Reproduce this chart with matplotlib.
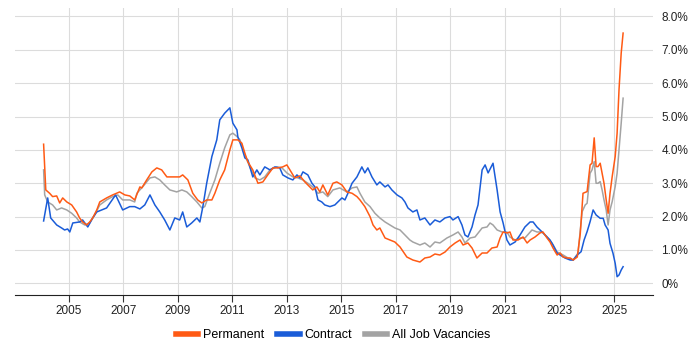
import matplotlib
matplotlib.use("Agg")
import matplotlib.pyplot as plt
from matplotlib.ticker import FixedLocator

plt.rcParams['font.family'] = ['Liberation Sans', 'DejaVu Sans']

# Permanent (share of all vacancies, %)
perm_x = [2004.08, 2004.16, 2004.30, 2004.41, 2004.56, 2004.67, 2004.78, 2004.93, 2005.11, 2005.29,
          2005.40, 2005.51, 2005.66, 2005.77, 2005.88, 2006.03, 2006.14, 2006.39, 2006.61, 2006.87,
          2007.06, 2007.24, 2007.42, 2007.61, 2007.68, 2007.86, 2008.05, 2008.23, 2008.41, 2008.60,
          2008.82, 2009.07, 2009.18, 2009.37, 2009.55, 2009.73, 2009.88, 2010.06, 2010.25, 2010.36,
          2010.54, 2010.72, 2010.91, 2011.02, 2011.20, 2011.35, 2011.46, 2011.57, 2011.75, 2011.94,
          2012.12, 2012.30, 2012.49, 2012.67, 2012.85, 2013.00, 2013.11, 2013.29, 2013.48, 2013.66,
          2013.77, 2013.95, 2014.10, 2014.21, 2014.32, 2014.50, 2014.69, 2014.83, 2015.02, 2015.20,
          2015.39, 2015.57, 2015.68, 2015.86, 2016.05, 2016.16, 2016.30, 2016.41, 2016.60, 2016.78,
          2016.96, 2017.15, 2017.40, 2017.62, 2017.88, 2018.06, 2018.25, 2018.43, 2018.61, 2018.80,
          2018.98, 2019.17, 2019.35, 2019.46, 2019.64, 2019.79, 2019.97, 2020.16, 2020.34, 2020.52,
          2020.71, 2020.82, 2020.93, 2021.07, 2021.18, 2021.29, 2021.48, 2021.66, 2021.81, 2021.92,
          2022.10, 2022.28, 2022.39, 2022.54, 2022.65, 2022.76, 2022.91, 2023.02, 2023.13, 2023.28,
          2023.39, 2023.50, 2023.65, 2023.76, 2023.86, 2024.01, 2024.12, 2024.19, 2024.27, 2024.34,
          2024.41, 2024.49, 2024.56, 2024.63, 2024.71, 2024.78, 2024.85, 2024.93, 2025.04, 2025.11,
          2025.18, 2025.26, 2025.33]
perm_y = [4.17, 2.8, 2.7, 2.6, 2.62, 2.41, 2.56, 2.44, 2.35, 2.14,
          1.96, 1.84, 1.75, 1.84, 1.96, 2.2, 2.44, 2.56, 2.65, 2.74,
          2.65, 2.62, 2.5, 2.89, 2.86, 3.1, 3.34, 3.46, 3.4, 3.19,
          3.19, 3.19, 3.25, 3.1, 2.7, 2.5, 2.41, 2.5, 2.5, 2.7,
          3.1, 3.4, 4.0, 4.3, 4.3, 4.2, 3.9, 3.64, 3.4, 3.0,
          3.04, 3.25, 3.46, 3.46, 3.49, 3.55, 3.4, 3.16, 3.22, 3.04,
          2.95, 2.8, 2.89, 2.74, 2.95, 2.65, 3.0, 3.04, 2.95, 2.74,
          2.7, 2.6, 2.5, 2.3, 2.0, 1.75, 1.6, 1.66, 1.36, 1.3,
          1.24, 1.09, 0.79, 0.7, 0.64, 0.76, 0.79, 0.88, 0.85, 0.94,
          1.09, 1.21, 1.3, 1.15, 1.21, 1.06, 0.76, 0.91, 0.91, 1.06,
          1.09, 1.36, 1.54, 1.51, 1.54, 1.3, 1.3, 1.39, 1.21, 1.3,
          1.39, 1.51, 1.54, 1.36, 1.24, 1.06, 0.85, 0.91, 0.79, 0.76,
          0.76, 0.7, 0.79, 1.5, 2.7, 2.75, 3.55, 3.6, 4.36, 3.5,
          3.5, 3.6, 3.3, 3.0, 2.5, 2.1, 2.7, 3.2, 3.8, 4.5,
          5.8, 6.9, 7.5]

# Contract
cont_x = [2004.08, 2004.23, 2004.34, 2004.56, 2004.74, 2004.85, 2004.96, 2005.04, 2005.15, 2005.40,
          2005.51, 2005.70, 2005.88, 2006.03, 2006.39, 2006.72, 2006.98, 2007.24, 2007.42, 2007.61,
          2007.79, 2007.98, 2008.16, 2008.34, 2008.52, 2008.71, 2008.89, 2009.07, 2009.18, 2009.33,
          2009.51, 2009.70, 2009.81, 2009.92, 2010.06, 2010.25, 2010.43, 2010.54, 2010.72, 2010.91,
          2011.02, 2011.17, 2011.20, 2011.35, 2011.46, 2011.57, 2011.75, 2011.90, 2012.01, 2012.19,
          2012.38, 2012.56, 2012.74, 2012.85, 2013.04, 2013.22, 2013.37, 2013.48, 2013.59, 2013.77,
          2013.92, 2014.03, 2014.14, 2014.28, 2014.39, 2014.58, 2014.76, 2014.87, 2015.02, 2015.13,
          2015.24, 2015.39, 2015.57, 2015.75, 2015.86, 2015.97, 2016.12, 2016.30, 2016.41, 2016.60,
          2016.71, 2016.85, 2017.04, 2017.22, 2017.33, 2017.44, 2017.62, 2017.77, 2017.88, 2018.06,
          2018.25, 2018.43, 2018.61, 2018.80, 2018.98, 2019.09, 2019.28, 2019.42, 2019.53, 2019.64,
          2019.79, 2019.90, 2020.01, 2020.16, 2020.27, 2020.38, 2020.56, 2020.71, 2020.82, 2020.93,
          2021.07, 2021.18, 2021.37, 2021.55, 2021.73, 2021.92, 2022.03, 2022.17, 2022.36, 2022.54,
          2022.65, 2022.76, 2022.91, 2023.02, 2023.20, 2023.39, 2023.50, 2023.65, 2023.79, 2023.90,
          2024.01, 2024.12, 2024.23, 2024.34, 2024.49, 2024.60, 2024.67, 2024.78, 2024.85, 2024.96,
          2025.04, 2025.11, 2025.18, 2025.26, 2025.33]
cont_y = [1.87, 2.56, 1.96, 1.75, 1.66, 1.6, 1.63, 1.54, 1.81, 1.84,
          1.9, 1.69, 1.96, 2.14, 2.26, 2.65, 2.2, 2.3, 2.3, 2.23,
          2.35, 2.65, 2.35, 2.14, 1.9, 1.6, 1.96, 1.9, 2.14, 1.69,
          1.81, 1.96, 1.84, 2.3, 3.0, 3.8, 4.3, 4.9, 5.1, 5.26,
          4.8, 4.6, 4.4, 4.06, 3.76, 3.7, 3.19, 3.4, 3.25, 3.49,
          3.4, 3.49, 3.46, 3.25, 3.16, 3.1, 3.25, 3.16, 3.34, 3.25,
          3.0, 2.89, 2.5, 2.44, 2.35, 2.3, 2.35, 2.44, 2.56, 2.5,
          2.7, 3.0, 3.19, 3.49, 3.31, 3.46, 3.19, 2.95, 3.04, 2.89,
          2.95, 2.8, 2.65, 2.56, 2.44, 2.26, 2.14, 2.2, 1.9, 1.96,
          1.75, 1.9, 1.84, 1.96, 2.0, 1.9, 2.0, 1.75, 1.45, 1.39,
          1.69, 2.05, 2.35, 3.4, 3.55, 3.31, 3.6, 2.8, 2.14, 1.81,
          1.3, 1.15, 1.24, 1.45, 1.69, 1.84, 1.84, 1.69, 1.54, 1.39,
          1.3, 1.15, 0.91, 0.85, 0.76, 0.7, 0.7, 0.85, 0.95, 1.3,
          1.55, 1.85, 2.2, 2.05, 1.95, 1.95, 1.75, 1.6, 1.2, 0.9,
          0.6, 0.2, 0.25, 0.4, 0.5]

# All Job Vacancies
all_x = [2004.08, 2004.12, 2004.23, 2004.41, 2004.56, 2004.74, 2004.93, 2005.11, 2005.29, 2005.40,
         2005.59, 2005.77, 2005.95, 2006.14, 2006.39, 2006.61, 2006.80, 2006.98, 2007.24, 2007.42,
         2007.50, 2007.72, 2007.98, 2008.16, 2008.34, 2008.52, 2008.71, 2008.96, 2009.15, 2009.33,
         2009.51, 2009.70, 2009.88, 2009.99, 2010.17, 2010.36, 2010.54, 2010.72, 2010.91, 2011.02,
         2011.17, 2011.28, 2011.46, 2011.64, 2011.83, 2012.01, 2012.19, 2012.38, 2012.63, 2012.82,
         2013.00, 2013.22, 2013.40, 2013.59, 2013.77, 2013.95, 2014.14, 2014.32, 2014.50, 2014.69,
         2014.94, 2015.20, 2015.39, 2015.57, 2015.68, 2015.86, 2016.05, 2016.23, 2016.41, 2016.60,
         2016.78, 2016.96, 2017.15, 2017.33, 2017.51, 2017.62, 2017.88, 2018.06, 2018.25, 2018.43,
         2018.61, 2018.87, 2019.09, 2019.28, 2019.42, 2019.53, 2019.72, 2019.90, 2020.16, 2020.34,
         2020.45, 2020.56, 2020.71, 2020.89, 2021.07, 2021.18, 2021.37, 2021.55, 2021.73, 2021.99,
         2022.17, 2022.36, 2022.54, 2022.72, 2022.91, 2023.13, 2023.31, 2023.50, 2023.68, 2023.76,
         2023.83, 2023.94, 2024.01, 2024.12, 2024.19, 2024.27, 2024.34, 2024.41, 2024.49, 2024.56,
         2024.63, 2024.71, 2024.78, 2024.85, 2024.93, 2025.04, 2025.11, 2025.18, 2025.26, 2025.33]
all_y = [3.4, 2.65, 2.44, 2.35, 2.2, 2.26, 2.2, 2.1, 1.96, 1.84,
         1.75, 1.81, 2.05, 2.35, 2.5, 2.6, 2.65, 2.5, 2.5, 2.44,
         2.7, 2.9, 3.16, 3.19, 3.1, 2.95, 2.8, 2.74, 2.8, 2.74,
         2.6, 2.44, 2.26, 2.3, 2.7, 3.1, 3.6, 4.06, 4.45, 4.5,
         4.4, 4.3, 3.85, 3.49, 3.16, 3.1, 3.19, 3.4, 3.49, 3.46,
         3.31, 3.19, 3.16, 3.1, 3.0, 2.89, 2.7, 2.74, 2.6, 2.8,
         2.86, 2.74, 2.86, 2.89, 2.7, 2.44, 2.3, 2.1, 1.96, 1.84,
         1.75, 1.66, 1.6, 1.45, 1.3, 1.24, 1.15, 1.21, 1.09, 1.24,
         1.21, 1.36, 1.45, 1.54, 1.39, 1.21, 1.36, 1.39, 1.66, 1.69,
         1.81, 1.75, 1.6, 1.54, 1.54, 1.39, 1.3, 1.36, 1.36, 1.6,
         1.54, 1.54, 1.39, 1.21, 0.94, 0.85, 0.76, 0.7, 0.91, 1.6,
         2.15, 2.35, 2.4, 3.3, 3.4, 3.65, 3.0, 3.0, 3.05, 2.8,
         2.5, 2.2, 1.75, 2.2, 2.45, 2.9, 3.3, 4.0, 4.8, 5.55]

year_ticks = [2005, 2007, 2009, 2011, 2013, 2015, 2017, 2019, 2021, 2023, 2025]
pct_ticks = [0, 1, 2, 3, 4, 5, 6, 7, 8]
pct_labels = ["0%"] + ["%.1f%%" % v for v in pct_ticks[1:]]

fig = plt.figure(figsize=(7, 3.5), dpi=100)
ax = fig.add_axes([0.021, 0.157, 0.912, 0.82])

ax.plot(all_x, all_y, color="#a3a3a3", lw=1.1, label="All Job Vacancies", zorder=3)
ax.plot(cont_x, cont_y, color="#1a5cd8", lw=1.1, label="Contract", zorder=4)
ax.plot(perm_x, perm_y, color="#ff5a14", lw=1.1, label="Permanent", zorder=5)

ax.set_xlim(2003.02, 2026.43)
ax.set_ylim(-0.35, 8.25)
ax.xaxis.set_major_locator(FixedLocator(year_ticks))
ax.set_xticklabels([str(y) for y in year_ticks])
ax.yaxis.set_major_locator(FixedLocator(pct_ticks))
ax.set_yticklabels(pct_labels)
ax.yaxis.tick_right()
ax.tick_params(axis="y", length=0, pad=6, labelsize=8.5, labelcolor="#222222")
ax.tick_params(axis="x", length=5, width=0.8, color="#333333", labelsize=8.5,
               labelcolor="#222222", pad=2)
ax.grid(True, color="#dcdcdc", lw=0.8)
ax.set_axisbelow(True)
for s in ["top", "left", "right"]:
    ax.spines[s].set_visible(False)
ax.spines["bottom"].set_color("#222222")

handles, labels = ax.get_legend_handles_labels()
order = [2, 1, 0]
leg = fig.legend([handles[i] for i in order], [labels[i] for i in order],
                 loc="center", bbox_to_anchor=(0.476, 0.043), ncol=3, frameon=False,
                 fontsize=9, handlelength=1.8, handletextpad=0.4, columnspacing=1.0)
for line in leg.get_lines():
    line.set_linewidth(4)

fig.savefig("out.png", dpi=100)
